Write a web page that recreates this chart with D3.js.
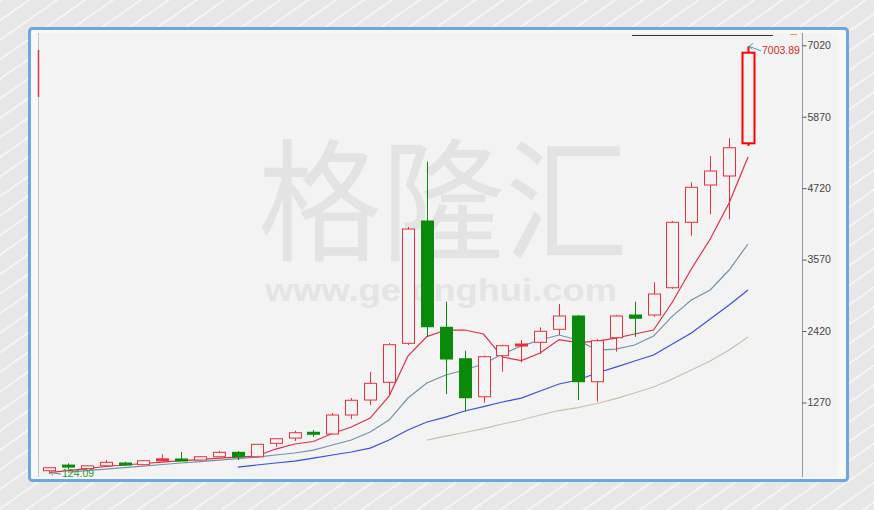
<!DOCTYPE html>
<html><head><meta charset="utf-8">
<script src="https://cdn.jsdelivr.net/npm/d3@7"></script>
<style>body{margin:0;background:#e6e6e6;} svg{display:block}</style>
</head><body><svg id="c" width="874" height="510"></svg>
<script>
const opens  = [171,262,205,251,295,268,352,360,343,396,467,396,612,697,790,762,1068,1309,1594,2222,4191,2480,1974,1362,2023,2195,2238,2448,2662,1604,2312,2678,2678,3117,4170,4771,4916,5442];
const closes = [219,248,250,306,270,332,362,352,396,467,396,596,686,783,778,1068,1305,1578,2200,4062,2489,1970,1346,2007,2184,2211,2416,2662,1604,2264,2662,2625,3016,4170,4734,4996,5371,6901];
const highs  = [231,290,258,343,315,340,435,472,405,493,488,600,692,815,826,1100,1342,1760,2227,4095,5146,2892,2103,2025,2200,2275,2480,2855,2680,2291,2680,2892,3204,4190,4814,5238,5523,7003.89];
const lows   = [124.09,190,196,245,250,262,335,335,335,390,343,375,553,649,714,755,1003,1229,1390,2195,2328,1406,1121,1266,1765,1916,2050,2356,1309,1282,2087,2328,2651,3100,3955,4299,4219,5400];
const ma5  = [139,174,206,239,263,287,311,335,351,375,391,408,520,601,641,770,874,1019,1373,2017,2331,2436,2436,2372,2001,1945,2066,2283,2235,2259,2307,2372,2436,2887,3418,3901,4481,5221];
const ma10 = [null,150,174,198,222,246,271,295,319,343,367,391,424,456,504,585,665,794,987,1341,1583,1712,1792,1889,2050,2178,2275,2356,2275,2114,2130,2195,2339,2661,2919,3080,3402,3821];
const ma20 = [null,null,null,null,null,null,null,null,null,null,230,263,295,327,375,424,472,536,665,826,955,1035,1132,1204,1277,1341,1454,1567,1631,1744,1840,1937,2034,2211,2388,2613,2839,3080];
const ma60 = [null,null,null,null,null,null,null,null,null,null,null,null,null,null,null,null,null,null,null,null,665,729,786,850,923,987,1068,1140,1188,1253,1333,1422,1518,1647,1792,1937,2114,2323];
const yTicks = [1270,2420,3570,4720,5870,7020];
const maxLabel = "7003.89";
const minLabel = "124.09";
const watermark = "格隆汇";
const watermarkUrl = "www.gelonghui.com";

const svg = d3.select("#c");
const defs = svg.append("defs");
const pat = defs.append("pattern").attr("id","stripes").attr("patternUnits","userSpaceOnUse")
  .attr("width",16).attr("height",16).attr("patternTransform","rotate(55)");
pat.append("rect").attr("width",16).attr("height",16).attr("fill","#e7e7e7");
pat.append("rect").attr("x",0).attr("width",1.4).attr("height",16).attr("fill","#fafafa");
defs.append("clipPath").attr("id","topclip").append("rect").attr("x",38).attr("y",33).attr("width",800).attr("height",20);

svg.append("rect").attr("width",874).attr("height",510).attr("fill","url(#stripes)");
// frame
svg.append("rect").attr("x",29.5).attr("y",28.5).attr("width",818).attr("height",452).attr("rx",3)
  .attr("fill","#f8f8f8").attr("stroke","#6ea6de").attr("stroke-width",3);
svg.append("rect").attr("x",38).attr("y",33).attr("width",800).attr("height",444).attr("fill","#f3f3f3");
svg.append("line").attr("x1",38.5).attr("x2",38.5).attr("y1",33).attr("y2",477).attr("stroke","#c4c4c4");
svg.append("line").attr("x1",38.5).attr("x2",38.5).attr("y1",50).attr("y2",97).attr("stroke","#d23c50").attr("stroke-width",1.5);

// watermark
svg.append("text").attr("x",258).attr("y",250).attr("font-family","'Noto Sans CJK SC'").attr("font-size",132)
  .attr("fill","#e3e3e3").attr("textLength",370).attr("lengthAdjust","spacingAndGlyphs").text(watermark);
svg.append("text").attr("x",265).attr("y",301).attr("font-family","'Liberation Sans',Arial,sans-serif").attr("font-weight","bold")
  .attr("font-size",31).attr("fill","#e4e4e4").attr("textLength",352).attr("lengthAdjust","spacingAndGlyphs").text(watermarkUrl);

// clipped legend bits at top
const tg = svg.append("g").attr("clip-path","url(#topclip)");
tg.append("text").attr("x",75).attr("y",30.5).attr("font-size",11).attr("font-family","'Liberation Sans',Arial").attr("fill","#333").text("SH000001 (D)");
tg.append("text").attr("x",150).attr("y",30.5).attr("font-size",11).attr("font-family","'Liberation Sans',Arial").attr("fill","#d03030").text("+ 0");
svg.append("line").attr("x1",632).attr("x2",773).attr("y1",35.5).attr("y2",35.5).attr("stroke","#333");
svg.append("line").attr("x1",790).attr("x2",797).attr("y1",34.5).attr("y2",34.5).attr("stroke","#f0a040");

const idx = d3.range(opens.length);
const x = d3.scalePoint().domain(idx).range([49, 748]);
const y = d3.scaleLinear().domain([70, 7202]).range([477, 34]);

// axis
svg.append("line").attr("x1",802.5).attr("x2",802.5).attr("y1",33).attr("y2",477).attr("stroke","#8d9aa6");
const ax = svg.append("g").attr("transform","translate(802.5,0)")
  .call(d3.axisRight(y).tickValues(yTicks).tickSize(4).tickPadding(1).tickFormat(d3.format("d")));
ax.select(".domain").remove();
ax.selectAll("line").attr("stroke","#555");
ax.selectAll("text").attr("font-family","'Liberation Sans',Arial,sans-serif").attr("font-size",10.5).attr("fill","#444");

// MA lines
const line = arr => d3.line().defined(i => arr[i] != null).x(i => x(i)).y(i => y(arr[i]))(idx);
svg.append("path").attr("d",line(ma60)).attr("fill","none").attr("stroke","#c9bfac").attr("stroke-width",1.2);
svg.append("path").attr("d",line(ma20)).attr("fill","none").attr("stroke","#3a50d8").attr("stroke-width",1.2);
svg.append("path").attr("d",line(ma10)).attr("fill","none").attr("stroke","#7193a8").attr("stroke-width",1.2);
svg.append("path").attr("d",line(ma5)).attr("fill","none").attr("stroke","#da3048").attr("stroke-width",1.2);

// candles
const cg = svg.append("g");
idx.forEach(i => {
  const cx = Math.round(x(i)) + 0.5;
  const up = closes[i] >= opens[i];
  const top = y(Math.max(opens[i], closes[i])), bot = y(Math.min(opens[i], closes[i]));
  const last = i === opens.length - 1;
  const col = up ? (last ? "#ff0000" : "#e8303c") : "#0a8a0a";
  const sw = last ? 2 : 1;
  cg.append("line").attr("x1",cx).attr("x2",cx).attr("y1",y(highs[i])).attr("y2",top).attr("stroke",col).attr("stroke-width",sw);
  cg.append("line").attr("x1",cx).attr("x2",cx).attr("y1",bot).attr("y2",y(lows[i])).attr("stroke",col).attr("stroke-width",sw);
  const h = Math.max(bot - top, 2);
  if (up) {
    cg.append("rect").attr("x",cx-6).attr("y",top).attr("width",12).attr("height",h)
      .attr("fill", h < 2.5 ? col : "#f3f3f3").attr("stroke",col).attr("stroke-width",sw);
  } else {
    cg.append("rect").attr("x",cx-6.5).attr("y",top-0.5).attr("width",13).attr("height",h+1).attr("fill",col);
  }
});

// max / min labels
const iMax = highs.indexOf(d3.max(highs)), iMin = lows.indexOf(d3.min(lows));
const mx = x(iMax) + 1, my = y(highs[iMax]);
svg.append("path").attr("d",`M${mx+12},${my+4.5} L${mx},${my} M${mx},${my} l4,-3 M${mx},${my} l3,3`).attr("stroke","#3fa3b5").attr("fill","none");
svg.append("text").attr("x",mx+13).attr("y",my+8).attr("font-family","'Liberation Sans',Arial,sans-serif").attr("font-size",10.5).attr("fill","#d02a2a").text(maxLabel);
const nx = x(iMin) + 1, ny = y(lows[iMin]);
svg.append("path").attr("d",`M${nx},${ny-1} L${nx+11},${ny+0.5} M${nx},${ny-1} l3,-2.5 M${nx},${ny-1} l3,2.5`).attr("stroke","#7a8a99").attr("fill","none");
svg.append("text").attr("x",nx+12).attr("y",ny+3).attr("font-family","'Liberation Sans',Arial,sans-serif").attr("font-size",10.5).attr("fill","#2f9a2f").text(minLabel);
</script></body></html>
